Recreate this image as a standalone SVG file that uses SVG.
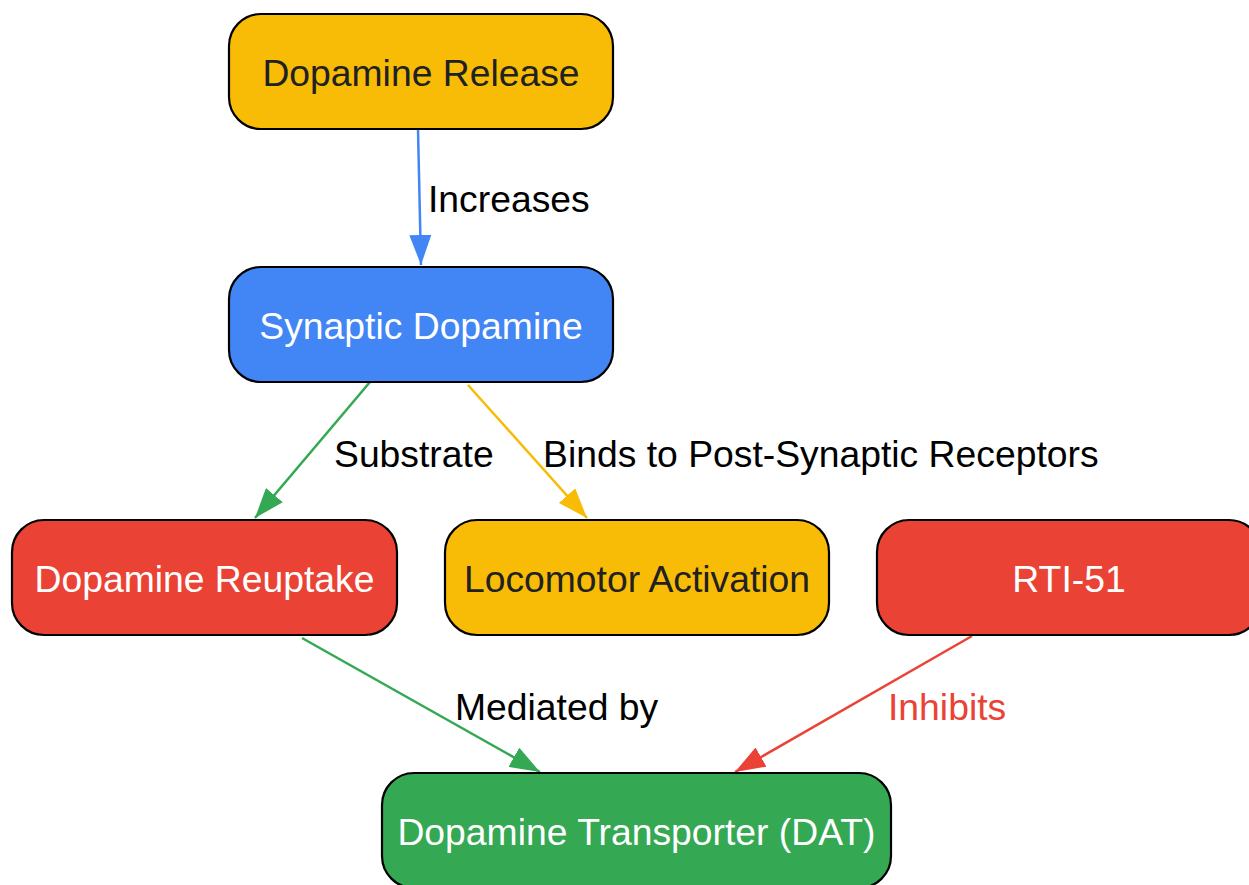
<svg xmlns="http://www.w3.org/2000/svg" width="1249" height="885" viewBox="0 0 1249 885">
<defs>
<style>
.node{stroke:#000;stroke-width:2.2}
.yellow{fill:#F9BC06}
.blue{fill:#4285F4}
.red{fill:#EA4335}
.green{fill:#34A853}
.nt{font-family:"Liberation Sans",Arial,sans-serif;font-size:37.3px;text-anchor:middle}
.dark{fill:#202124}
.light{fill:#fff}
.edge{fill:none;stroke-width:2.5}
.lbl{font-family:"Liberation Sans",Arial,sans-serif;font-size:37.3px;fill:#000}
</style>
<marker id="aBlue" viewBox="0 0 30 22" refX="30" refY="11" markerWidth="30" markerHeight="22" markerUnits="userSpaceOnUse" orient="auto"><path d="M0,0L30,11L0,22z" fill="#4285F4"/></marker>
<marker id="aGreen" viewBox="0 0 30 22" refX="30" refY="11" markerWidth="30" markerHeight="22" markerUnits="userSpaceOnUse" orient="auto"><path d="M0,0L30,11L0,22z" fill="#34A853"/></marker>
<marker id="aYellow" viewBox="0 0 30 22" refX="30" refY="11" markerWidth="30" markerHeight="22" markerUnits="userSpaceOnUse" orient="auto"><path d="M0,0L30,11L0,22z" fill="#F9BC06"/></marker>
<marker id="aRed" viewBox="0 0 30 22" refX="30" refY="11" markerWidth="30" markerHeight="22" markerUnits="userSpaceOnUse" orient="auto"><path d="M0,0L30,11L0,22z" fill="#EA4335"/></marker>
</defs>
<rect width="1249" height="885" fill="#fff"/>
<g id="connectors">
<path class="edge" stroke="#4285F4" marker-end="url(#aBlue)" d="M418,129L421,265"/>
<text class="lbl" x="428" y="212">Increases</text>
<path class="edge" stroke="#34A853" marker-end="url(#aGreen)" d="M370,382L255,518"/>
<text class="lbl" x="334" y="467">Substrate</text>
<path class="edge" stroke="#F9BC06" marker-end="url(#aYellow)" d="M468,385L587,518"/>
<text class="lbl" x="543" y="467">Binds to Post-Synaptic Receptors</text>
<path class="edge" stroke="#34A853" marker-end="url(#aGreen)" d="M302,638L540,772"/>
<text class="lbl" x="455" y="720">Mediated by</text>
<path class="edge" stroke="#EA4335" marker-end="url(#aRed)" d="M972,636L735,772"/>
<text class="lbl" x="888" y="720" style="fill:#EA4335">Inhibits</text>
</g>
<g id="release">
<rect class="node yellow" x="229" y="14" width="384" height="115" rx="32"/>
<text class="nt dark" x="421" y="86">Dopamine Release</text>
</g>
<g id="synaptic">
<rect class="node blue" x="229" y="267" width="384" height="115" rx="32"/>
<text class="nt light" x="421" y="339">Synaptic Dopamine</text>
</g>
<g id="reuptake">
<rect class="node red" x="12" y="520" width="385" height="115" rx="32"/>
<text class="nt light" x="204.5" y="592">Dopamine Reuptake</text>
</g>
<g id="locomotor">
<rect class="node yellow" x="445" y="520" width="384" height="115" rx="32"/>
<text class="nt dark" x="637" y="592">Locomotor Activation</text>
</g>
<g id="rti51">
<rect class="node red" x="877" y="520" width="384" height="115" rx="32"/>
<text class="nt light" x="1069" y="592">RTI-51</text>
</g>
<g id="dat">
<rect class="node green" x="382" y="773" width="509" height="115" rx="32"/>
<text class="nt light" x="636.5" y="845">Dopamine Transporter (DAT)</text>
</g>
</svg>
